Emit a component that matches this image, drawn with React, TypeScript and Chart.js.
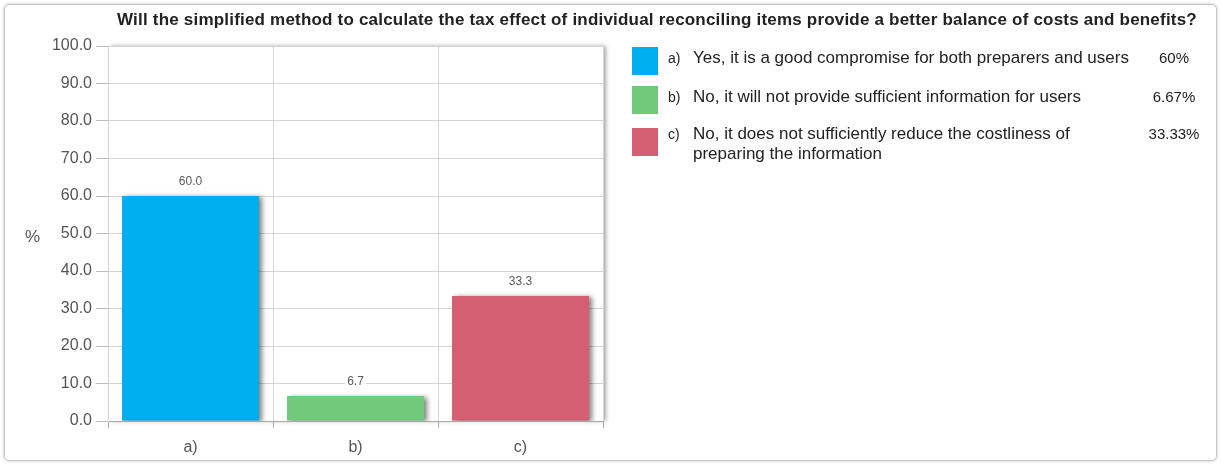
import React, { useEffect, useRef } from "react";
import { Chart, registerables } from "chart.js";

Chart.register(...registerables);

const titleText =
  "Will the simplified method to calculate the tax effect of individual reconciling items provide a better balance of costs and benefits?";
const categories = ["a)", "b)", "c)"];
const values = [60.0, 6.67, 33.33];
const barColors = ["#00ADEF", "#71C97A", "#D45F72"];
const legendTexts = [
  "Yes, it is a good compromise for both preparers and users",
  "No, it will not provide sufficient information for users",
  "No, it does not sufficiently reduce the costliness of preparing the information",
];
const legendPercents = ["60%", "6.67%", "33.33%"];
const yAxisLabel = "%";

const FONT = "Arial, 'Liberation Sans', sans-serif";

const shadowPlugin = {
  id: "shadowPlugin",
  beforeDatasetsDraw(chart: any) {
    const ctx = chart.ctx;
    ctx.save();
    ctx.shadowColor = "rgba(0,0,0,0.5)";
    ctx.shadowBlur = 5;
    ctx.shadowOffsetX = 3;
    ctx.shadowOffsetY = 1;
  },
  afterDatasetsDraw(chart: any) {
    chart.ctx.restore();
  },
};

const plotShadowPlugin = {
  id: "plotShadow",
  beforeDraw(chart: any) {
    const ctx = chart.ctx;
    const a = chart.chartArea;
    ctx.save();
    ctx.shadowColor = "rgba(0,0,0,0.35)";
    ctx.shadowBlur = 4;
    ctx.shadowOffsetX = 3;
    ctx.shadowOffsetY = 0;
    ctx.fillStyle = "#ffffff";
    ctx.fillRect(a.left, a.top, a.right - a.left, a.bottom - a.top);
    ctx.restore();
  },
};

const valueLabelPlugin = {
  id: "valueLabels",
  afterDatasetsDraw(chart: any) {
    const ctx = chart.ctx;
    const meta = chart.getDatasetMeta(0);
    ctx.save();
    ctx.shadowColor = "transparent";
    ctx.font = `12px ${FONT}`;
    ctx.textAlign = "center";
    ctx.textBaseline = "middle";
    meta.data.forEach((bar: any, i: number) => {
      const txt = values[i].toFixed(1);
      const w = ctx.measureText(txt).width;
      const y = bar.y - 14;
      ctx.fillStyle = "#ffffff";
      ctx.fillRect(bar.x - w / 2 - 2, y - 6, w + 4, 12);
      ctx.fillStyle = "#5a5a5a";
      ctx.fillText(txt, bar.x, y);
    });
    ctx.restore();
  },
};

export default function App() {
  const ref = useRef<HTMLCanvasElement | null>(null);

  useEffect(() => {
    if (!ref.current) return;
    const chart = new Chart(ref.current, {
      type: "bar",
      data: {
        labels: categories,
        datasets: [
          {
            data: values,
            backgroundColor: barColors,
            borderWidth: 0,
            categoryPercentage: 1,
            barPercentage: 0.83,
          },
        ],
      },
      options: {
        responsive: false,
        animation: false,
        layout: { padding: { left: 0, top: 46, right: 619, bottom: 3 } },
        plugins: {
          legend: { display: false },
          tooltip: { enabled: false },
          title: { display: false },
        },
        scales: {
          x: {
            offset: true,
            grid: {
              offset: true,
              color: "#d4d4d4",
              tickColor: "#aaaaaa",
              tickLength: 7,
              drawTicks: true,
            },
            border: { color: "#aaaaaa" },
            ticks: { color: "#555555", font: { size: 16, family: FONT }, padding: 10 },
            afterFit(scale: any) {
              scale.height = 40;
            },
          },
          y: {
            min: 0,
            max: 100,
            grid: {
              color: "#d4d4d4",
              tickColor: "#bbbbbb",
              tickLength: 12,
            },
            border: { color: "#d4d4d4" },
            ticks: {
              stepSize: 10,
              color: "#555555",
              font: { size: 16, family: FONT },
              padding: 4,
              callback: (v: any) => Number(v).toFixed(1),
            },
            afterFit(scale: any) {
              scale.width = 108;
            },
          },
        },
      },
      plugins: [plotShadowPlugin, shadowPlugin, valueLabelPlugin],
    });
    return () => chart.destroy();
  }, []);

  return (
    <div style={{ position: "fixed", left: 0, top: 0, width: 1222, height: 464, background: "#fff", fontFamily: FONT }}>
      <div
        style={{
          position: "absolute",
          left: 4,
          top: 4,
          width: 1213,
          height: 457,
          boxSizing: "border-box",
          border: "1px solid #c4c4c4",
          borderRadius: 5,
          boxShadow: "0 0 3px rgba(0,0,0,0.25)",
        }}
      />
      <canvas ref={ref} width={1222} height={464} style={{ position: "absolute", left: 0, top: 0, width: 1222, height: 464 }} />
      <div
        style={{
          position: "absolute",
          left: 117,
          top: 10,
          fontWeight: "bold",
          fontSize: 17,
          letterSpacing: "0.2px",
          color: "#222",
          whiteSpace: "nowrap",
        }}
      >
        {titleText}
      </div>
      <div style={{ position: "absolute", left: 25, top: 227, fontSize: 17, color: "#555" }}>{yAxisLabel}</div>
      {legendTexts.map((t, i) => {
        const tops = [47, 86, 128];
        const dy = i === 2 ? -4 : 1;
        return (
          <div key={i} style={{ position: "absolute", left: 632, top: tops[i], width: 580 }}>
            <div style={{ position: "absolute", left: 0, top: 0, width: 26, height: 28, background: barColors[i] }} />
            <div style={{ position: "absolute", left: 36, top: dy, fontSize: 14, lineHeight: "20px", color: "#222" }}>
              {categories[i]}
            </div>
            <div
              style={{
                position: "absolute",
                left: 61,
                top: dy,
                width: 440,
                fontSize: 17,
                lineHeight: "20px",
                color: "#222",
              }}
            >
              {t}
            </div>
            <div
              style={{
                position: "absolute",
                left: 502,
                top: dy,
                width: 80,
                textAlign: "center",
                fontSize: 15,
                lineHeight: "20px",
                color: "#222",
              }}
            >
              {legendPercents[i]}
            </div>
          </div>
        );
      })}
    </div>
  );
}
